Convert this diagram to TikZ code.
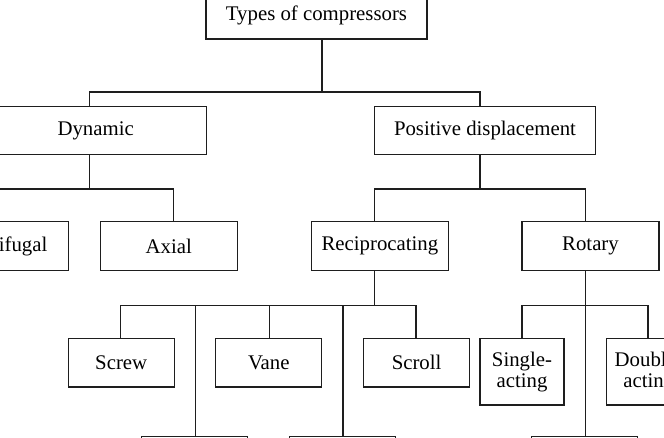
\documentclass[tikz,border=0pt]{standalone}
\usepackage{fontspec}
\setmainfont{Liberation Serif}
\usepackage{xcolor}
\usetikzlibrary{positioning}
\definecolor{treeline}{HTML}{1E1E1E}

\begin{document}
\begin{tikzpicture}[
    x=0.5pt,y=-0.5pt,
    box/.style    = {rectangle,draw=treeline,line width=0.6pt,fill=white,align=center,
                     inner sep=0pt,font=\fontsize{10.4}{10.6}\selectfont},
    large/.style  = {box,minimum width=110.5pt,minimum height=24pt},
    middle/.style = {box,minimum width=68.5pt,minimum height=24.5pt},
    small/.style  = {box,minimum width=53pt,minimum height=24.25pt},
    narrow/.style = {box,minimum width=42pt,minimum height=33.25pt},
    li/.style     = {treeline,line width=0.6pt},
  ]
  \useasboundingbox (0,0) rectangle (664,438);
  \clip (0,0) rectangle (664,438);

  % -- Root and first level ----------------------------------------------
  \node[large]  (types)  at (316.5,15)    {Types of compressors};
  \node[large]  (dyn)    at (95.7,130.4)  {Dynamic};
  \node[large]  (pd)     at (485,130.4)   {Positive displacement};

  % -- Second level --------------------------------------------------------
  \node[middle] (cen)    at (0,246.2)     {Centrifugal};
  \node[middle] (ax)     at (168.7,246.2) {Axial};
  \node[middle] (rec)    at (379.9,246.2) {Reciprocating};
  \node[middle] (rot)    at (590.5,246.2) {Rotary};

  % -- Third level ---------------------------------------------------------
  \node[small]  (screw)  at (121.2,362.8) {Screw};
  \node[small]  (vane)   at (268.8,362.8) {Vane};
  \node[small]  (scroll) at (416.6,362.8) {Scroll};
  \node[narrow] (single) at (522,371.8)   {Single-\\acting};
  \node[narrow] (double) at (648.8,371.8) {Double-\\acting};

  % -- Boxes cut by the lower edge -------------------------------------------
  \node[small]  (b1)     at (194.7,461)   {};
  \node[small]  (b2)     at (342.5,461)   {};
  \node[small]  (b3)     at (584.3,461)   {};

  % -- Connectors ------------------------------------------------------------
  \coordinate (j0) at (322,92);
  \draw[li] (j0 |- types.south) -- (j0);
  \draw[li] (89.4,0 |- dyn.north) |- (j0) -| (480,0 |- pd.north);

  \coordinate (j1) at (89.4,189);
  \draw[li] (j1 |- dyn.south) -- (j1);
  \draw[li] (-2,0 |- cen.north) |- (j1) -| (173.7,0 |- ax.north);

  \coordinate (j2) at (480,189);
  \draw[li] (j2 |- pd.south) -- (j2);
  \draw[li] (374.6,0 |- rec.north) |- (j2) -| (585.6,0 |- rot.north);

  \coordinate (j3) at (374.6,305.7);
  \draw[li] (j3 |- rec.south) -- (j3);
  \draw[li] (120.8,0 |- screw.north) |- (j3) -| (416,0 |- scroll.north);
  \foreach \x/\n in {195.8/b1,269.5/vane,343/b2}
    \draw[li] (\x,305.7) -- (\x,0 |- \n.north);

  \coordinate (j4) at (585.6,305.7);
  \draw[li] (j4 |- rot.south) -- (j4 |- b3.north);
  \draw[li] (522,0 |- single.north) |- (j4) -| (648,0 |- double.north);

\end{tikzpicture}
\end{document}
